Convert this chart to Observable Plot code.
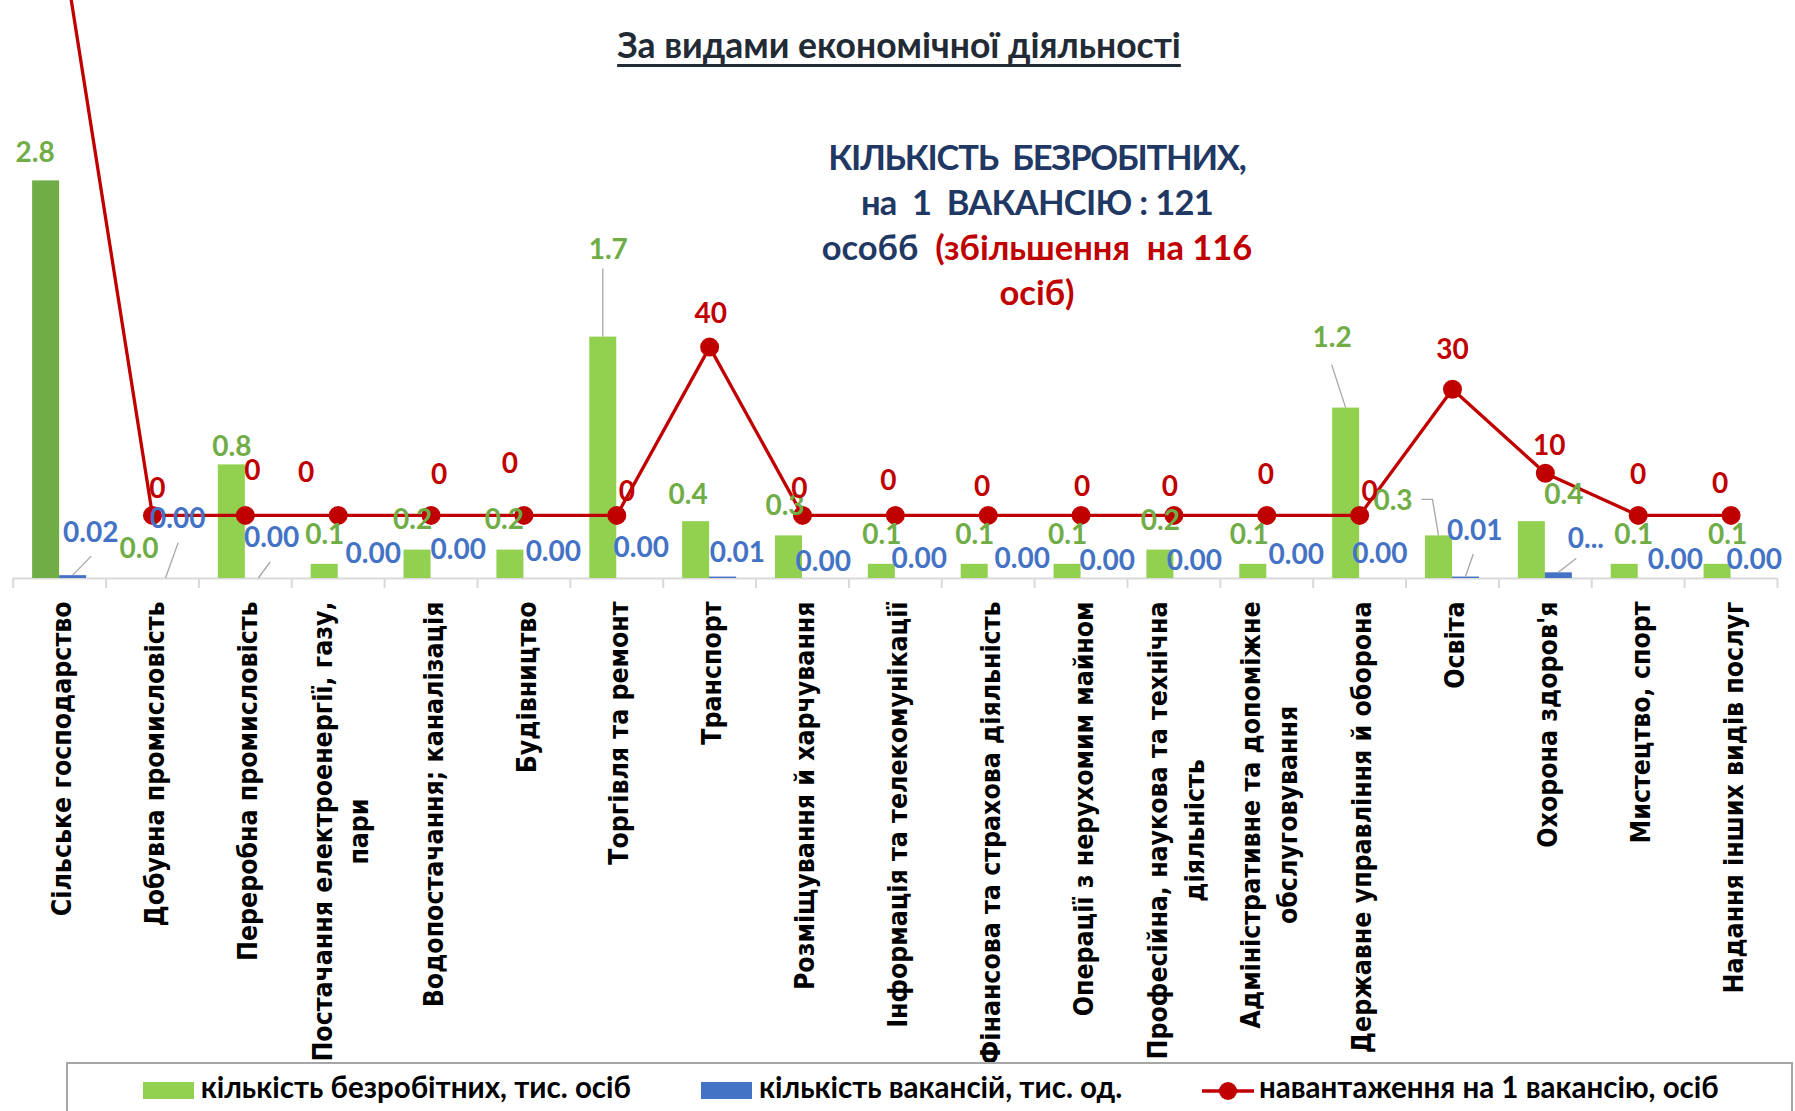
<!DOCTYPE html>
<html>
<head>
<meta charset="utf-8">
<script src="https://cdn.jsdelivr.net/npm/d3@7"></script>
<script src="https://cdn.jsdelivr.net/npm/@observablehq/plot@0.6"></script>
<style>
  html, body { margin: 0; padding: 0; background: #fff; }
  body { width: 1795px; height: 1111px; overflow: hidden; position: relative; }
  #root { position: absolute; left: 0; top: 0; }
  #subtitle { position: absolute; left: 899px; top: 27px; transform: translateX(-50%);
    font-family: Lato, "Open Sans", sans-serif; font-weight: bold; font-size: 35.5px; line-height: 35px;
    color: #222a35; text-decoration: underline; text-decoration-thickness: 3px; text-underline-offset: 6px; white-space: nowrap; }
  #note { position: absolute; left: 1037px; top: 134px; transform: translateX(-50%);
    font-family: Lato, "Open Sans", sans-serif; font-weight: bold; font-size: 34.5px; line-height: 45px;
    color: #1f3864; text-align: center; white-space: pre; }
  #note .l1 { letter-spacing: -1.2px; }
  #note .l2 { letter-spacing: -0.7px; }
  .red { color: #c00000; }
  #legendbox { position: absolute; left: 66px; top: 1062px; width: 1727px; height: 120px;
    border: 2px solid #a6a6a6; box-sizing: border-box; }
  .sw { position: absolute; top: 1082px; width: 51px; height: 17px; }
  .lt { position: absolute; top: 1072px; font-family: Lato, "Open Sans", sans-serif; font-weight: bold;
    font-size: 29.5px; line-height: 29.5px; color: #000; white-space: nowrap; }
  .lm { position: absolute; top: 1079px; }
</style>
</head>
<body>
<div id="root"></div>
<div id="subtitle">За видами економічної діяльності</div>
<div id="note"><div class="l1">КІЛЬКІСТЬ  БЕЗРОБІТНИХ,</div><div class="l2">на  1  ВАКАНСІЮ : 121</div><div>особб  <span class="red">(збільшення  на 116</span></div><div class="red">осіб)</div></div>
<div id="legendbox"></div>
<div id="legend"></div>
<script>
// ---------------- data ----------------
const categories = [
  "Сільське господарство",
  "Добувна промисловість",
  "Переробна промисловість",
  "Постачання електроенергії, газу,\nпари",
  "Водопостачання; каналізація",
  "Будівництво",
  "Торгівля та ремонт",
  "Транспорт",
  "Розміщування й харчування",
  "Інформація та телекомунікації",
  "Фінансова та страхова діяльність",
  "Операції з нерухомим майном",
  "Професійна, наукова та технічна\nдіяльність",
  "Адміністративне та допоміжне\nобслуговування",
  "Державне управління й оборона",
  "Освіта",
  "Охорона здоров'я",
  "Мистецтво, спорт",
  "Надання інших видів послуг"
];
const unemployed = [2.8, 0.0, 0.8, 0.1, 0.2, 0.2, 1.7, 0.4, 0.3, 0.1, 0.1, 0.1, 0.2, 0.1, 1.2, 0.3, 0.4, 0.1, 0.1];
const vacancies  = [0.02, 0.00, 0.00, 0.00, 0.00, 0.00, 0.00, 0.01, 0.00, 0.00, 0.00, 0.00, 0.00, 0.00, 0.00, 0.01, 0.04, 0.00, 0.00];
const load       = [140, 0, 0, 0, 0, 0, 0, 40, 0, 0, 0, 0, 0, 0, 0, 30, 10, 0, 0];
const seriesNames = ["кількість безробітних, тис. осіб", "кількість вакансій, тис. од.", "навантаження на 1 вакансію, осіб"];
const truncatedVacancyLabels = { "Охорона здоров'я": "0..." };

// ---------------- layout / style ----------------
const W = 1795, H = 1060, ML = 12.7, MR = 18, MT = 10, MB = 482;
const Y_MAX = 4;
const bw = (W - ML - MR) / categories.length;
const barW = 27;
const pxPerUnit = (H - MT - MB) / Y_MAX;
const GREEN = "#92d050", GREEN_HI = "#70ad47", BLUE = "#4472c4", RED = "#c00000";
const GREEN_TXT = "#70ad47", BLUE_TXT = "#4472c4";
const LABEL_FONT = "Lato, 'Open Sans', sans-serif";
const CAT_SQUEEZE = 0.88;

// secondary axis (load) mapped onto primary units
const sec = d3.scaleLinear().domain([-15, 120]).range([0, Y_MAX]);

// label nudges (px) reproducing the manual label placement of the original
const greenNudge = {0: [-11, -28], 2: [0, -18], 4: [-5, -30], 5: [-6, -30], 6: [5, -87], 7: [-8, -27],
  8: [-4, -30], 13: [-4, -29], 14: [-14, -70], 15: [-46, -35], 16: [32, -27], 17: [9, -29], 18: [10, -29]};
const blueNudge = [[17.6, -43], [11.7, -59.4], [12.8, -40], [21.6, -24], [13.7, -28.5], [15.9, -26.2], [11, -30],
  [14.2, -23.6], [7.3, -16], [10.4, -19.3], [20.6, -19.3], [12.7, -17], [6.9, -17], [16, -23], [6.7, -24],
  [8.8, -45.6], [27, -34], [23.6, -18.2], [9.7, -18.2]];
const redNudge = [[0, -30], [5, -26], [7, -44], [-32, -42], [8, -40], [-14, -51], [10, -23], [1, -33], [-3, -26],
  [-7, -34], [-6, -28], [1, -28], [-4, -28], [-1, -40], [10, -23], [0, -39], [4, -27], [0, -40], [-11, -31]];
const gN = i => greenNudge[i] || [0, -29];

const rows = categories.map((c, i) => ({c, i, u: unemployed[i], v: vacancies[i], l: load[i]}));
// a load beyond the secondary axis maximum runs off the plot; its label is not shown
const visibleLoad = rows.filter(d => d.l <= sec.domain()[1]);
const labelStyle = {fontSize: 28, fontFamily: LABEL_FONT, fontWeight: "bold"};

const chart = Plot.plot({
  width: W, height: H,
  marginLeft: ML, marginRight: MR, marginTop: MT, marginBottom: MB,
  x: {type: "band", domain: categories, padding: 0, round: false, axis: null},
  y: {domain: [0, Y_MAX], axis: null},
  color: {type: "identity"},
  style: {overflow: "visible", background: "transparent"},
  marks: [
    Plot.ruleY([0], {stroke: "#d9d9d9", strokeWidth: 2}),
    Plot.ruleX(rows, {x: "c", dx: -bw / 2, y1: 0, y2: -10 / pxPerUnit, stroke: "#d9d9d9", strokeWidth: 2}),
    Plot.ruleX(rows.slice(-1), {x: "c", dx: bw / 2, y1: 0, y2: -10 / pxPerUnit, stroke: "#d9d9d9", strokeWidth: 2}),
    Plot.barY(rows, {x: "c", y: "u", fill: d => d.i === 0 ? GREEN_HI : GREEN, insetLeft: bw / 2 - barW, insetRight: bw / 2}),
    Plot.barY(rows, {x: "c", y: "v", fill: BLUE, insetLeft: bw / 2, insetRight: bw / 2 - barW}),
    Plot.line(rows, {x: "c", y: d => sec(d.l), stroke: RED, strokeWidth: 3.3}),
    Plot.dot(rows, {x: "c", y: d => sec(d.l), r: 9.5, fill: RED}),
    ...rows.map(d => Plot.text([d], {x: "c", y: "u", text: r => r.u.toFixed(1),
      dx: -barW / 2 + gN(d.i)[0], dy: gN(d.i)[1], fill: GREEN_TXT, ...labelStyle})),
    ...rows.map(d => Plot.text([d], {x: "c", y: "v", text: r => truncatedVacancyLabels[r.c] || r.v.toFixed(2),
      dx: barW / 2 + blueNudge[d.i][0], dy: blueNudge[d.i][1], fill: BLUE_TXT, ...labelStyle})),
    ...visibleLoad.map(d => Plot.text([d], {x: "c", y: r => sec(r.l), text: r => String(r.l),
      dx: redNudge[d.i][0], dy: redNudge[d.i][1], fill: RED, ...labelStyle})),
    Plot.text(rows, {x: "c", y: () => 0, text: "c", rotate: -90, textAnchor: "end", lineAnchor: "middle",
      dy: 23, lineHeight: 1.35, fontSize: 27, fontFamily: "DejaVu Sans", fontWeight: "bold", fill: "#000",
      ariaDescription: "category labels"})
  ]
});
document.getElementById("root").appendChild(chart);

// condense the category glyphs along the text and center wrapped lines (as the original does)
const catKeys = new Set(categories.map(c => c.replace(/\n/g, "")));
[...chart.querySelectorAll("text")].filter(t => catKeys.has(t.textContent)).forEach(t => {
  const spans = [...t.querySelectorAll("tspan")];
  if (spans.length > 1) {
    const L = spans.map(s => s.getComputedTextLength());
    const Lmax = Math.max(...L);
    spans.forEach((s, k) => {
      s.setAttribute("textLength", (L[k] * CAT_SQUEEZE).toFixed(2));
      s.setAttribute("lengthAdjust", "spacingAndGlyphs");
      s.setAttribute("x", (-(Lmax - L[k]) * CAT_SQUEEZE / 2).toFixed(2));
    });
  } else {
    const L = t.getComputedTextLength();
    t.setAttribute("textLength", (L * CAT_SQUEEZE).toFixed(2));
    t.setAttribute("lengthAdjust", "spacingAndGlyphs");
  }
});

// leader lines from moved labels to their bars, through the plot's scales
const xs = chart.scale("x"), ys = chart.scale("y");
const center = c => xs.apply(c) + xs.bandwidth / 2;
const barTop = (series, i) => {
  const d = rows[i];
  return series === "u" ? [center(d.c) - barW / 2, ys.apply(d.u)] : [center(d.c) + barW / 2, ys.apply(d.v)];
};
const labelPos = (series, i) => {
  const b = barTop(series, i);
  const n = series === "u" ? gN(i) : blueNudge[i];
  return [b[0] + n[0], b[1] + n[1]];
};
const leaders = [
  {s: "u", i: 6, start: [-5, 19]},
  {s: "u", i: 14, start: [0, 27]},
  {s: "u", i: 15, start: [29, -1], elbow: true},
  {s: "v", i: 0, start: [1, 24]},
  {s: "v", i: 1, start: [1, 24]},
  {s: "v", i: 2, start: [-1, 24]},
  {s: "v", i: 15, start: [-1, 23]},
  {s: "v", i: 16, start: [-9, 20]}
];
d3.select(chart).append("g").attr("aria-label", "leaders")
  .selectAll("path").data(leaders).join("path")
  .attr("fill", "none").attr("stroke", "#a6a6a6").attr("stroke-width", 1.3)
  .attr("d", ld => {
    const L = labelPos(ld.s, ld.i), B = barTop(ld.s, ld.i);
    const p0 = [L[0] + ld.start[0], L[1] + ld.start[1]];
    const pts = [p0];
    if (ld.elbow) pts.push([B[0] - 6, p0[1]]);
    pts.push(B);
    return d3.line()(pts);
  });

// legend (below the svg)
const legend = document.getElementById("legend");
const legendItems = [
  {name: seriesNames[0], kind: "rect", color: GREEN, x: 143, tx: 200.7},
  {name: seriesNames[1], kind: "rect", color: BLUE, x: 700.6, tx: 759},
  {name: seriesNames[2], kind: "line", color: RED, x: 1202, tx: 1259}
];
legendItems.forEach(it => {
  if (it.kind === "rect") {
    const s = document.createElement("div");
    s.className = "sw"; s.style.left = it.x + "px"; s.style.background = it.color;
    legend.appendChild(s);
  } else {
    const m = d3.create("svg").attr("class", "lm").attr("width", 52).attr("height", 24)
      .style("left", it.x + "px");
    m.append("line").attr("x1", 0).attr("x2", 52).attr("y1", 12).attr("y2", 12)
      .attr("stroke", it.color).attr("stroke-width", 3.3);
    m.append("circle").attr("cx", 26).attr("cy", 12).attr("r", 9).attr("fill", it.color);
    legend.appendChild(m.node());
  }
  const t = document.createElement("div");
  t.className = "lt"; t.style.left = it.tx + "px"; t.textContent = it.name;
  legend.appendChild(t);
});
</script>
</body>
</html>
